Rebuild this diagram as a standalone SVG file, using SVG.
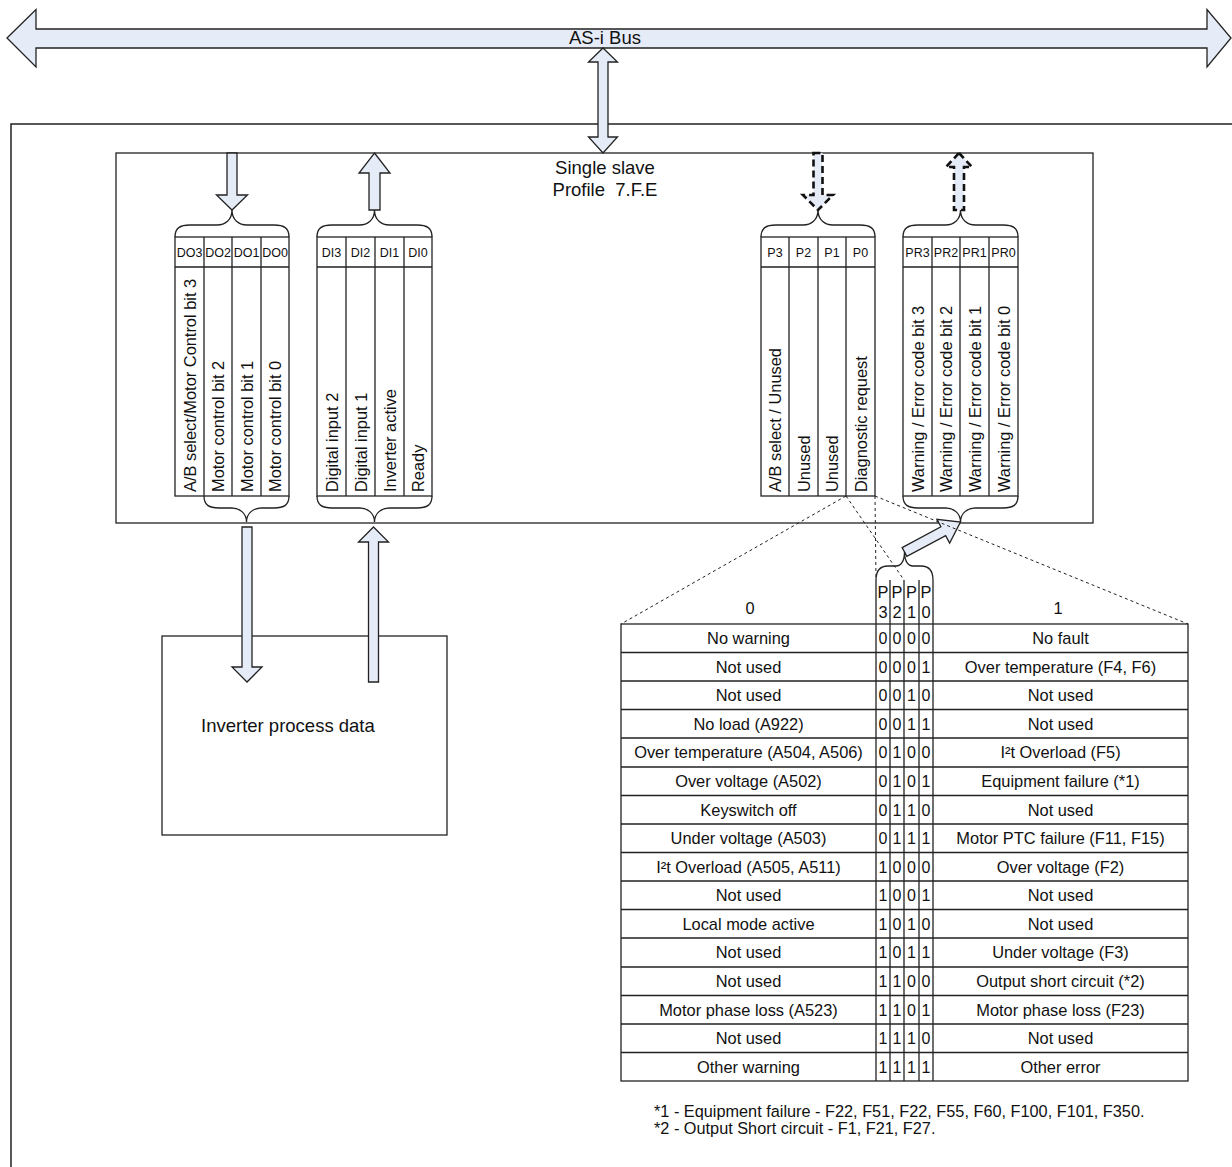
<svg xmlns="http://www.w3.org/2000/svg" width="1232" height="1167" viewBox="0 0 1232 1167">
<style>
text{font-family:"Liberation Sans",Arial,sans-serif;fill:#111}
.ln{fill:none;stroke:#222;stroke-width:1.3}
.box{fill:#fff;stroke:#222;stroke-width:1.3}
.arr{fill:#E6ECF7;stroke:#222;stroke-width:1.3}
.darr{fill:#E6ECF7;stroke:#111;stroke-width:2.6;stroke-dasharray:7 4}
.dot{fill:none;stroke:#222;stroke-width:1;stroke-dasharray:3 3}
.t{font-size:16.4px;text-anchor:middle}
.hd{font-size:12.5px;text-anchor:middle}
.vt{font-size:16.4px}
.big{font-size:18.5px}
.fn{font-size:16.3px}
</style>

<g id="outer-frame">
<path class="ln" d="M11,1170 V124 H1236" style="stroke-width:1.5"/>
</g>

<g id="as-i-bus">
<polygon class="arr" points="7,38 36,9.5 36,29 1207,29 1207,9.5 1231,38 1207,67 1207,48 36,48 36,67"/>
<text class="big" x="605" y="44" text-anchor="middle">AS-i Bus</text>
</g>

<g id="single-slave">
<rect class="box" x="116" y="153" width="977" height="370"/>
<text class="big" x="605" y="174" text-anchor="middle">Single slave</text>
<text class="big" x="605" y="196" text-anchor="middle" xml:space="preserve">Profile  7.F.E</text>
</g>

<g id="do-block">
<rect class="box" x="175" y="237" width="114" height="259"/>
<path class="ln" d="M175,267 H289 M204,237 V496 M232,237 V496 M261,237 V496"/>
<text class="hd" x="189.5" y="257">DO3</text>
<text class="hd" x="218" y="257">DO2</text>
<text class="hd" x="246.5" y="257">DO1</text>
<text class="hd" x="275" y="257">DO0</text>
<text class="vt" transform="translate(195.5,492) rotate(-90)">A/B select/Motor Control bit 3</text>
<text class="vt" transform="translate(224,492) rotate(-90)">Motor control bit 2</text>
<text class="vt" transform="translate(252.5,492) rotate(-90)">Motor control bit 1</text>
<text class="vt" transform="translate(281,492) rotate(-90)">Motor control bit 0</text>
</g>

<g id="di-block">
<rect class="box" x="317" y="237" width="115" height="259"/>
<path class="ln" d="M317,267 H432 M346,237 V496 M375,237 V496 M404,237 V496"/>
<text class="hd" x="331.5" y="257">DI3</text>
<text class="hd" x="360.5" y="257">DI2</text>
<text class="hd" x="389.5" y="257">DI1</text>
<text class="hd" x="418" y="257">DI0</text>
<text class="vt" transform="translate(337.5,492) rotate(-90)">Digital input 2</text>
<text class="vt" transform="translate(366.5,492) rotate(-90)">Digital input 1</text>
<text class="vt" transform="translate(395.5,492) rotate(-90)">Inverter active</text>
<text class="vt" transform="translate(424,492) rotate(-90)">Ready</text>
</g>

<g id="p-block">
<rect class="box" x="761" y="237" width="114" height="259"/>
<path class="ln" d="M761,267 H875 M789,237 V496 M818,237 V496 M846,237 V496"/>
<text class="hd" x="775" y="257">P3</text>
<text class="hd" x="803.5" y="257">P2</text>
<text class="hd" x="832" y="257">P1</text>
<text class="hd" x="860.5" y="257">P0</text>
<text class="vt" transform="translate(781,492) rotate(-90)">A/B select / Unused</text>
<text class="vt" transform="translate(809.5,492) rotate(-90)">Unused</text>
<text class="vt" transform="translate(838,492) rotate(-90)">Unused</text>
<text class="vt" transform="translate(866.5,492) rotate(-90)">Diagnostic request</text>
</g>

<g id="pr-block">
<rect class="box" x="903" y="237" width="115" height="259"/>
<path class="ln" d="M903,267 H1018 M932,237 V496 M960,237 V496 M989,237 V496"/>
<text class="hd" x="917.5" y="257">PR3</text>
<text class="hd" x="946" y="257">PR2</text>
<text class="hd" x="974.5" y="257">PR1</text>
<text class="hd" x="1003.5" y="257">PR0</text>
<text class="vt" transform="translate(923.5,492) rotate(-90)">Warning / Error code bit 3</text>
<text class="vt" transform="translate(952,492) rotate(-90)">Warning / Error code bit 2</text>
<text class="vt" transform="translate(980.5,492) rotate(-90)">Warning / Error code bit 1</text>
<text class="vt" transform="translate(1009.5,492) rotate(-90)">Warning / Error code bit 0</text>
</g>

<g id="inverter">
<rect class="box" x="162" y="636" width="285" height="199"/>
<text class="big" x="201" y="732">Inverter process data</text>
</g>

<g id="code-table">
<rect class="box" x="621" y="624" width="567" height="457"/>
<path class="ln" d="M621,652.5 H1188 M621,681 H1188 M621,709.5 H1188 M621,738 H1188 M621,767 H1188 M621,795.5 H1188 M621,824 H1188 M621,852.5 H1188 M621,881 H1188 M621,909.5 H1188 M621,938 H1188 M621,967 H1188 M621,995.5 H1188 M621,1024 H1188 M621,1052.5 H1188"/>
<path class="ln" d="M876,580 V1081 M890,580 V1081 M904,580 V1081 M919,580 V1081 M933,580 V1081"/>
<text class="t" x="750" y="614">0</text>
<text class="t" x="1058" y="614">1</text>
<g class="t">
<text x="883" y="598">P</text><text x="897" y="598">P</text><text x="911.5" y="598">P</text><text x="926" y="598">P</text>
<text x="883" y="617.5">3</text><text x="897" y="617.5">2</text><text x="911.5" y="617.5">1</text><text x="926" y="617.5">0</text>
</g>
<g class="t">
<text x="748.5" y="644">No warning</text>
<text x="748.5" y="672.5">Not used</text>
<text x="748.5" y="701">Not used</text>
<text x="748.5" y="729.5">No load (A922)</text>
<text x="748.5" y="758">Over temperature (A504, A506)</text>
<text x="748.5" y="787">Over voltage (A502)</text>
<text x="748.5" y="815.5">Keyswitch off</text>
<text x="748.5" y="844">Under voltage (A503)</text>
<text x="748.5" y="872.5">I²t Overload (A505, A511)</text>
<text x="748.5" y="901">Not used</text>
<text x="748.5" y="929.5">Local mode active</text>
<text x="748.5" y="958">Not used</text>
<text x="748.5" y="987">Not used</text>
<text x="748.5" y="1015.5">Motor phase loss (A523)</text>
<text x="748.5" y="1044">Not used</text>
<text x="748.5" y="1072.5">Other warning</text>
</g>
<g class="t">
<text x="1060.5" y="644">No fault</text>
<text x="1060.5" y="672.5">Over temperature (F4, F6)</text>
<text x="1060.5" y="701">Not used</text>
<text x="1060.5" y="729.5">Not used</text>
<text x="1060.5" y="758">I²t Overload (F5)</text>
<text x="1060.5" y="787">Equipment failure (*1)</text>
<text x="1060.5" y="815.5">Not used</text>
<text x="1060.5" y="844">Motor PTC failure (F11, F15)</text>
<text x="1060.5" y="872.5">Over voltage (F2)</text>
<text x="1060.5" y="901">Not used</text>
<text x="1060.5" y="929.5">Not used</text>
<text x="1060.5" y="958">Under voltage (F3)</text>
<text x="1060.5" y="987">Output short circuit (*2)</text>
<text x="1060.5" y="1015.5">Motor phase loss (F23)</text>
<text x="1060.5" y="1044">Not used</text>
<text x="1060.5" y="1072.5">Other error</text>
</g>
<g class="t" style="font-size:16px">
<text x="883" y="644">0</text><text x="897" y="644">0</text><text x="911.5" y="644">0</text><text x="926" y="644">0</text>
<text x="883" y="672.5">0</text><text x="897" y="672.5">0</text><text x="911.5" y="672.5">0</text><text x="926" y="672.5">1</text>
<text x="883" y="701">0</text><text x="897" y="701">0</text><text x="911.5" y="701">1</text><text x="926" y="701">0</text>
<text x="883" y="729.5">0</text><text x="897" y="729.5">0</text><text x="911.5" y="729.5">1</text><text x="926" y="729.5">1</text>
<text x="883" y="758">0</text><text x="897" y="758">1</text><text x="911.5" y="758">0</text><text x="926" y="758">0</text>
<text x="883" y="787">0</text><text x="897" y="787">1</text><text x="911.5" y="787">0</text><text x="926" y="787">1</text>
<text x="883" y="815.5">0</text><text x="897" y="815.5">1</text><text x="911.5" y="815.5">1</text><text x="926" y="815.5">0</text>
<text x="883" y="844">0</text><text x="897" y="844">1</text><text x="911.5" y="844">1</text><text x="926" y="844">1</text>
<text x="883" y="872.5">1</text><text x="897" y="872.5">0</text><text x="911.5" y="872.5">0</text><text x="926" y="872.5">0</text>
<text x="883" y="901">1</text><text x="897" y="901">0</text><text x="911.5" y="901">0</text><text x="926" y="901">1</text>
<text x="883" y="929.5">1</text><text x="897" y="929.5">0</text><text x="911.5" y="929.5">1</text><text x="926" y="929.5">0</text>
<text x="883" y="958">1</text><text x="897" y="958">0</text><text x="911.5" y="958">1</text><text x="926" y="958">1</text>
<text x="883" y="987">1</text><text x="897" y="987">1</text><text x="911.5" y="987">0</text><text x="926" y="987">0</text>
<text x="883" y="1015.5">1</text><text x="897" y="1015.5">1</text><text x="911.5" y="1015.5">0</text><text x="926" y="1015.5">1</text>
<text x="883" y="1044">1</text><text x="897" y="1044">1</text><text x="911.5" y="1044">1</text><text x="926" y="1044">0</text>
<text x="883" y="1072.5">1</text><text x="897" y="1072.5">1</text><text x="911.5" y="1072.5">1</text><text x="926" y="1072.5">1</text>
</g>
</g>

<g id="footnotes">
<text class="fn" x="654" y="1117">*1 - Equipment failure - F22, F51, F22, F55, F60, F100, F101, F350.</text>
<text class="fn" x="654" y="1134">*2 - Output Short circuit - F1, F21, F27.</text>
</g>

<g id="connectors">
<polygon class="arr" points="603,48 617.5,62 608,62 608,137 617.5,137 603,153 588.5,137 598,137 598,62 588.5,62"/>
<polygon class="arr" points="227,153 237,153 237,195 247.5,195 232,210 216.5,195 227,195"/>
<polygon class="arr" points="374.5,153 390,173 380,173 380,210 369,210 369,173 359,173"/>
<polygon class="darr" points="813.5,153 822.5,153 822.5,195 833,195 818,210 803,195 813.5,195"/>
<polygon class="darr" points="959,153 972,167 964,167 964,210 954,210 954,167 946,167"/>
<polygon class="arr" points="242,527 252,527 252,667 262,667 247,682 232,667 242,667"/>
<polygon class="arr" points="373.5,527 388.5,542 378.5,542 378.5,682 368.5,682 368.5,542 358.5,542"/>
<polygon class="arr" transform="translate(904.5,552) rotate(-28.2)" points="0,-5 44,-5 44,-13.5 63.5,0 44,13.5 44,5 0,5"/>
<path class="ln" d="M175,237 C175,228 180,225 190,225 L217,225 C225,225 232,220 232,210 C232,220 239,225 247,225 L274,225 C284,225 289,228 289,237"/>
<path class="ln" d="M317,237 C317,228 322,225 332,225 L359.5,225 C367.5,225 374.5,220 374.5,210 C374.5,220 381.5,225 389.5,225 L417,225 C427,225 432,228 432,237"/>
<path class="ln" d="M761,237 C761,228 766,225 776,225 L803,225 C811,225 818,220 818,210 C818,220 825,225 833,225 L860,225 C870,225 875,228 875,237"/>
<path class="ln" d="M903,237 C903,228 908,225 918,225 L945.5,225 C953.5,225 960.5,220 960.5,210 C960.5,220 967.5,225 975.5,225 L1003,225 C1013,225 1018,228 1018,237"/>
<path class="ln" d="M204,496 C204,505 209,508 219,508 L231.5,508 C239.5,508 246.5,513 246.5,522 C246.5,513 253.5,508 261.5,508 L274,508 C284,508 289,505 289,496"/>
<path class="ln" d="M317,496 C317,505 322,508 332,508 L359.5,508 C367.5,508 374.5,513 374.5,522 C374.5,513 381.5,508 389.5,508 L417,508 C427,508 432,505 432,496"/>
<path class="ln" d="M903,496 C903,505 908,508 918,508 L945.5,508 C953.5,508 960.5,513 960.5,522 C960.5,513 967.5,508 975.5,508 L1003,508 C1013,508 1018,505 1018,496"/>
<path class="ln" d="M876,580 C876,570 880,566 888,566 L896,566 C901,566 904.5,561 904.5,552 C904.5,561 908,566 913,566 L921,566 C929,566 933,570 933,580"/>
<path class="dot" d="M846,496 L621,624 M846,496 L904,580 M875,496 L876,580 M875,496 L1188,624"/>
</g>
</svg>
